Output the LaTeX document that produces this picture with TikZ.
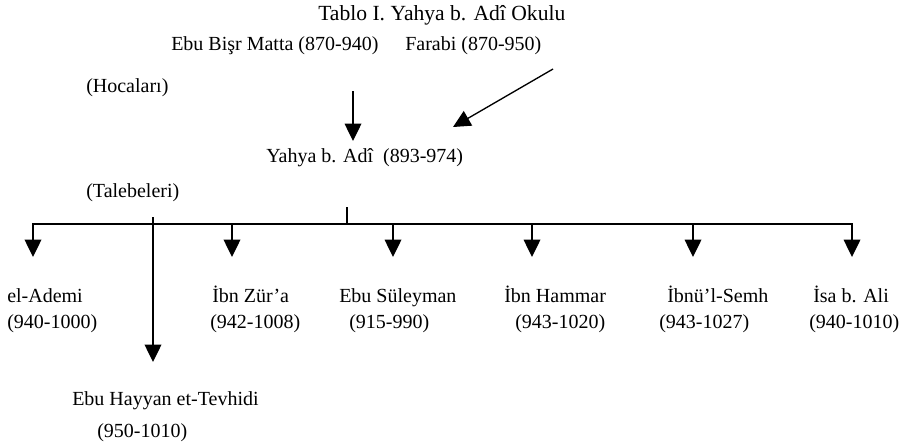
\documentclass[tikz,border=0pt]{standalone}
\usepackage{fontspec}
\setmainfont{Liberation Serif}
\usepackage{tikz}
\usetikzlibrary{arrows.meta}
\tikzset{/okul/text/.style={
	anchor=base west, inner sep=0pt, font=\fontsize{15}{18}\selectfont
}}
\tikzset{/okul/title/.style={
	anchor=base west, inner sep=0pt, font=\fontsize{16.2}{19}\selectfont
}}
\tikzset{/okul/arrow/.style={
	draw, line width=1pt, -{Triangle[length=13pt, width=12.5pt]}
}}
\tikzset{/okul/line/.style={draw, line width=1pt}}

\begin{document}
\begin{tikzpicture}[x=0.75pt, y=-0.75pt]
			\useasboundingbox (0,0) rectangle (905,446);
			\path node[/okul/title] (baslik) at (318,21) {Tablo I. Yahya b. Adî Okulu};
			\path node[/okul/text] (matta) at (171,50) {Ebu Bişr Matta (870-940)};
			\path node[/okul/text] (farabi) at (405,50) {Farabi (870-950)};
			\path node[/okul/text] (hocalar) at (86,92) {(Hocaları)};
			\path node[/okul/text] (yahya) at (266,162) {Yahya b. Adî\ \ (893-974)};
			\path node[/okul/text] (talebeler) at (86,197) {(Talebeleri)};
			% hocalardan Yahya'ya
			\coordinate (mattaUc) at (353,91);
			\coordinate (mattaTip) at (353,141);
			\coordinate (farabiUc) at (553,69);
			\coordinate (farabiTip) at (453,127);
			\path[/okul/arrow] (mattaUc) -- (mattaTip);
			\path[/okul/arrow] (farabiUc) -- (farabiTip);
			% talebeler
			\foreach \ax/\nx/\isim/\tx/\tarih/\id in {
				33/7/el-Ademi/7/(940-1000)/ademi,
				232/212/İbn Zür’a/210/(942-1008)/zura,
				393/339/Ebu Süleyman/349/(915-990)/suleyman,
				532/504/İbn Hammar/515/(943-1020)/hammar,
				693/667/İbnü’l-Semh/659/(943-1027)/semh,
				852/813/İsa b. Ali/809/(940-1010)/isa}{
				\coordinate (\id-bar) at (\ax,224);
				\coordinate (\id-tip) at (\ax,257);
				\path[/okul/arrow] (\id-bar) -- (\id-tip);
				\path node[/okul/text] (\id) at (\nx,302) {\isim};
				\path node[/okul/text] (\id-yil) at (\tx,328) {\tarih};
			}
			\path[/okul/line, line cap=rect] (ademi-bar) -- (isa-bar);
			\coordinate (yahyaAlt) at (347,207);
			\path[/okul/line] (yahyaAlt) -- (yahyaAlt |- ademi-bar);
			\coordinate (hayyanUst) at (153,217);
			\coordinate (hayyanTip) at (153,362);
			\path[/okul/arrow] (hayyanUst) -- (hayyanTip);
			\path node[/okul/text] (hayyan) at (72,405) {Ebu Hayyan et-Tevhidi};
			\path node[/okul/text] (hayyan-yil) at (97,437) {(950-1010)};
		\end{tikzpicture}
\end{document}
